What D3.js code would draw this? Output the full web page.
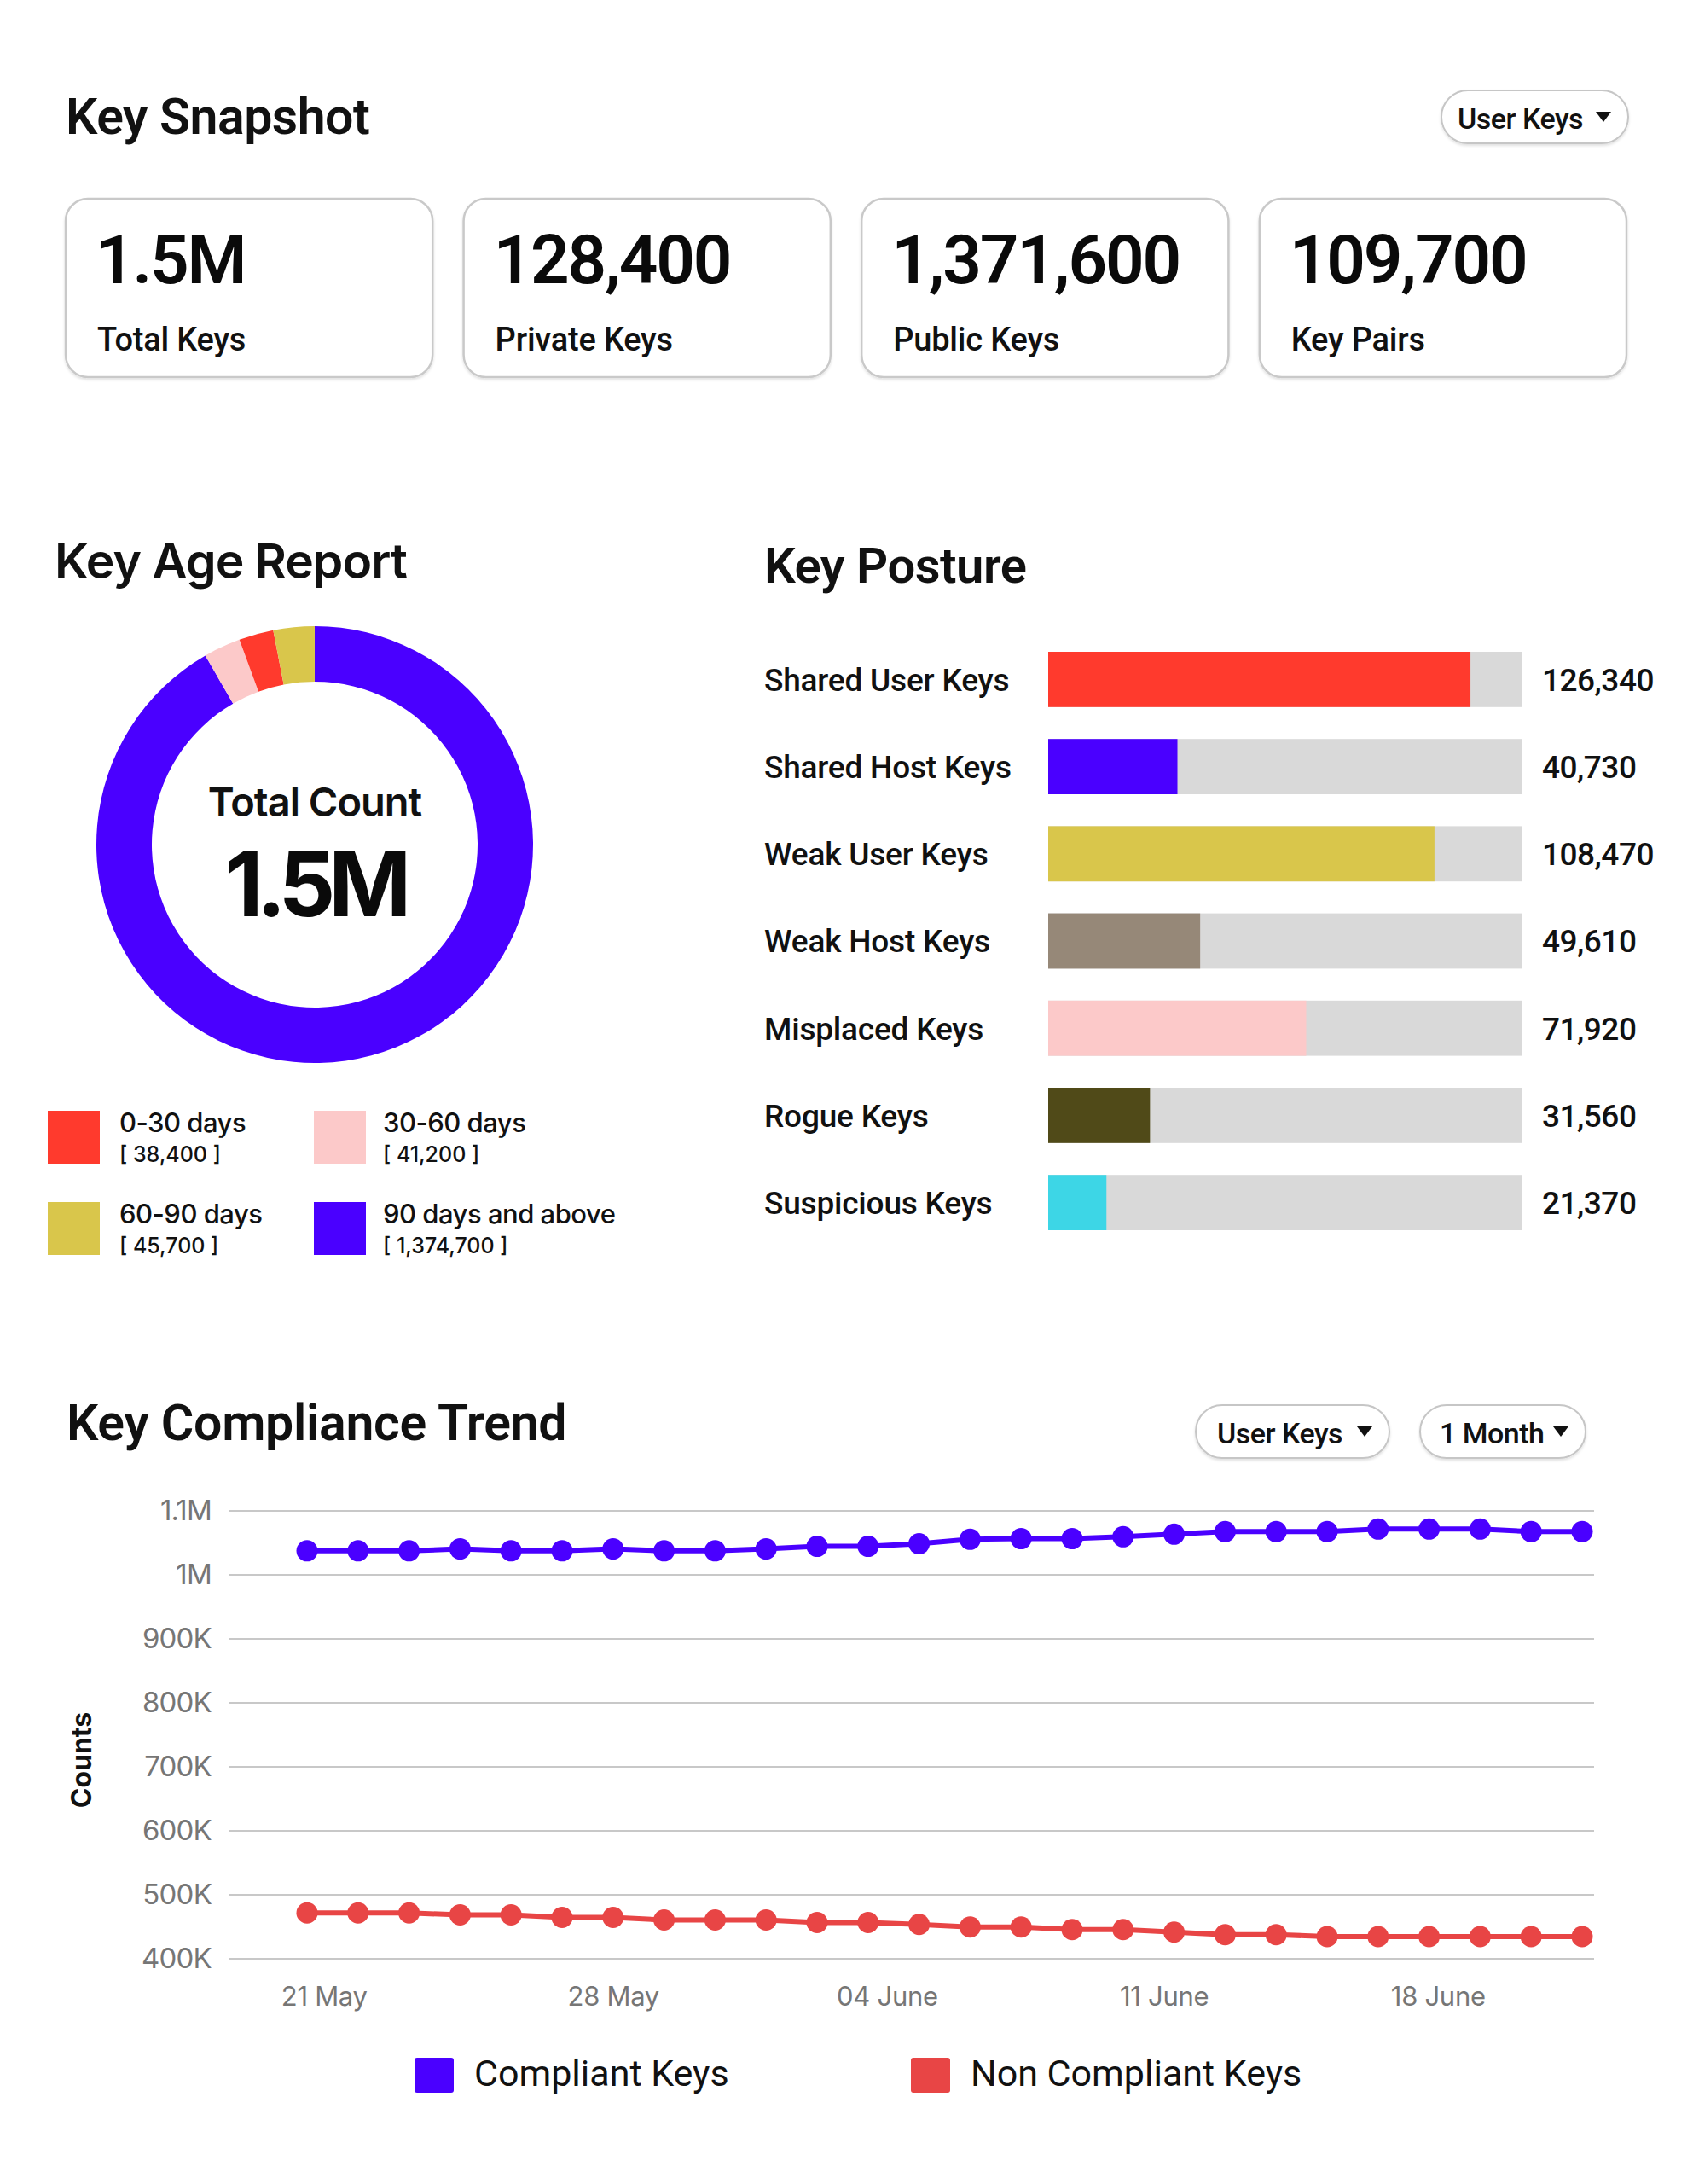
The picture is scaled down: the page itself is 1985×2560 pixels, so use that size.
<!DOCTYPE html>
<html>
<head>
<meta charset="utf-8">
<script src="https://cdn.jsdelivr.net/npm/d3@7"></script>
<style>
  body { margin: 0; background: #fff; }
  svg { font-family: Roboto, "Liberation Sans", sans-serif; }
  .wide { font-family: Inter, "Open Sans", sans-serif; }
</style>
</head>
<body>
<div id="chart-area"></div>
<script>
// ---- data ----
var snapshotValues = ["1.5M", "128,400", "1,371,600", "109,700"];
var snapshotLabels = ["Total Keys", "Private Keys", "Public Keys", "Key Pairs"];

// key age, legend order
var ageLabels = ["0-30 days", "30-60 days", "60-90 days", "90 days and above"];
var ageValues = [38400, 41200, 45700, 1374700];
var ageTotal = "1.5M";
var pieOrder = [3, 1, 0, 2]; // clockwise from 12 o'clock

var postureLabels = ["Shared User Keys", "Shared Host Keys", "Weak User Keys", "Weak Host Keys",
    "Misplaced Keys", "Rogue Keys", "Suspicious Keys"];
var postureValues = [126340, 40730, 108470, 49610, 71920, 31560, 21370];
var postureShare = [89.2, 27.3, 81.6, 32.1, 54.5, 21.5, 12.3]; // % of bar filled

var compliant = [1037000, 1037000, 1037000, 1040000, 1037000, 1037000, 1040000, 1037000, 1037000,
    1040000, 1044000, 1044000, 1048000, 1055000, 1056000, 1056000, 1059000, 1063000, 1067000,
    1067000, 1067000, 1071000, 1071000, 1071000, 1067000, 1067000];
var nonCompliant = [471000, 471000, 471000, 468000, 468000, 464000, 464000, 460000, 460000,
    460000, 456000, 456000, 453000, 449000, 449000, 445000, 445000, 441000, 437000, 437000,
    434000, 434000, 434000, 434000, 434000, 434000];
var xTickLabels = ["21 May", "28 May", "04 June", "11 June", "18 June"];
var xTickAt = [0.33, 6, 11.37, 16.8, 22.17]; // position in point index units
var yTicks = [400000, 500000, 600000, 700000, 800000, 900000, 1000000, 1100000];
var seriesNames = ["Compliant Keys", "Non Compliant Keys"];

// ---- styles ----
var ageColors = ["#ff3a2d", "#fcc9c9", "#d9c64b", "#4a00ff"];
var postureColors = ["#ff3a2d", "#4a00ff", "#d9c64b", "#968878", "#fcc9c9", "#504a18", "#3dd6e6"];
var lineColors = ["#4a00ff", "#e84545"];

var svg = d3.select("#chart-area")
    .append("svg")
    .attr("width", 1985)
    .attr("height", 2560);

svg.append("rect").attr("width", 1985).attr("height", 2560).attr("fill", "#fff");

var defs = svg.append("defs");
defs.append("filter").attr("id", "shadow")
    .attr("x", "-10%").attr("y", "-10%").attr("width", "120%").attr("height", "130%")
    .append("feDropShadow")
    .attr("dx", 0).attr("dy", 2).attr("stdDeviation", 1.5)
    .attr("flood-color", "#000").attr("flood-opacity", 0.12);

function dropdown(x, y, w, label, textX) {
    var g = svg.append("g");
    g.append("rect")
        .attr("x", x).attr("y", y).attr("width", w).attr("height", 62)
        .attr("rx", 31)
        .attr("fill", "#fff").attr("stroke", "#c6c6c6").attr("stroke-width", 2)
        .attr("filter", "url(#shadow)");
    g.append("text")
        .attr("x", textX).attr("y", y + 45)
        .attr("font-size", 34).attr("font-weight", 500).attr("fill", "#111")
        .attr("letter-spacing", -0.5)
        .text(label);
    var tx = x + w - 29;
    g.append("path")
        .attr("d", "M" + (tx - 9) + "," + (y + 25) + "L" + (tx + 9) + "," + (y + 25) + "L" + tx + "," + (y + 37) + "Z")
        .attr("fill", "#111");
}

// ---- Key Snapshot ----
svg.append("text")
    .attr("x", 77).attr("y", 157)
    .attr("font-size", 59).attr("font-weight", 600).attr("fill", "#111")
    .attr("letter-spacing", -0.5)
    .text("Key Snapshot");

dropdown(1690, 106, 219, "User Keys", 1709);

var cardX = d3.scaleBand()
    .domain(snapshotLabels)
    .range([77, 1907])
    .paddingInner(0.078);

var cards = svg.selectAll(".card")
    .data(snapshotLabels)
    .enter()
    .append("g")
    .attr("class", "card")
    .attr("transform", (d) => "translate(" + cardX(d) + ",233)");

cards.append("rect")
    .attr("width", cardX.bandwidth()).attr("height", 209)
    .attr("rx", 26)
    .attr("fill", "#fff").attr("stroke", "#c9c9c9").attr("stroke-width", 2.5)
    .attr("filter", "url(#shadow)");

cards.append("text")
    .attr("x", 35).attr("y", 99)
    .attr("font-size", 80).attr("font-weight", 600).attr("fill", "#0a0a0a")
    .attr("letter-spacing", -2.2)
    .text((d, i) => snapshotValues[i]);

cards.append("text")
    .attr("x", 37).attr("y", 178)
    .attr("font-size", 38).attr("font-weight", 500).attr("fill", "#111")
    .attr("letter-spacing", -0.2)
    .text((d) => d);

// ---- Key Age Report ----
svg.append("text")
    .attr("class", "wide")
    .attr("x", 64).attr("y", 678)
    .attr("font-size", 57).attr("font-weight", 600).attr("fill", "#111")
    .attr("letter-spacing", -1)
    .text("Key Age Report");

var pieData = pieOrder.map((i) => ({ label: ageLabels[i], value: ageValues[i], color: ageColors[i] }));

var pie = d3.pie().sort(null).value((d) => d.value);
var arc = d3.arc().innerRadius(191).outerRadius(256);

var donut = svg.append("g").attr("transform", "translate(369,990)");
donut.selectAll("path")
    .data(pie(pieData))
    .enter()
    .append("path")
    .attr("d", arc)
    .attr("fill", (d) => d.data.color);

donut.append("text")
    .attr("class", "wide")
    .attr("y", -33)
    .attr("text-anchor", "middle")
    .attr("font-size", 47).attr("font-weight", 600).attr("fill", "#111")
    .attr("letter-spacing", -1)
    .text("Total Count");

donut.append("text")
    .attr("class", "wide")
    .attr("y", 84)
    .attr("text-anchor", "middle")
    .attr("font-size", 104).attr("font-weight", 700).attr("fill", "#0a0a0a")
    .attr("letter-spacing", -8)
    .text(ageTotal);

var legend = svg.selectAll(".age-legend")
    .data(ageLabels)
    .enter()
    .append("g")
    .attr("class", "age-legend")
    .attr("transform", (d, i) => "translate(" + (i % 2 === 0 ? 56 : 368) + "," + (i < 2 ? 1302 : 1409) + ")");

legend.append("rect")
    .attr("width", 61).attr("height", 62)
    .attr("fill", (d, i) => ageColors[i]);

legend.append("text")
    .attr("class", "wide")
    .attr("x", (d, i) => i % 2 === 0 ? 84 : 81).attr("y", 25)
    .attr("font-size", 31).attr("font-weight", 500).attr("fill", "#111")
    .attr("letter-spacing", -0.5)
    .text((d) => d);

legend.append("text")
    .attr("class", "wide")
    .attr("x", (d, i) => i % 2 === 0 ? 84 : 81).attr("y", 60)
    .attr("font-size", 25).attr("font-weight", 500).attr("fill", "#111")
    .style("white-space", "pre")
    .text((d, i) => "[ " + d3.format(",")(ageValues[i]) + " ]");

// ---- Key Posture ----
svg.append("text")
    .attr("x", 896).attr("y", 683)
    .attr("font-size", 58).attr("font-weight", 600).attr("fill", "#111")
    .attr("letter-spacing", -0.5)
    .text("Key Posture");

var px = d3.scaleLinear().domain([0, 100]).range([1229, 1784]);
var py = d3.scaleBand()
    .domain(postureLabels)
    .range([764, 1442])
    .paddingInner(0.366)
    .paddingOuter(0);

var rows = svg.selectAll(".posture")
    .data(postureLabels)
    .enter()
    .append("g")
    .attr("class", "posture");

rows.append("rect")
    .attr("x", px(0)).attr("y", (d) => py(d))
    .attr("width", px(100) - px(0)).attr("height", py.bandwidth())
    .attr("fill", "#d9d9d9");

rows.append("rect")
    .attr("x", px(0)).attr("y", (d) => py(d))
    .attr("width", (d, i) => px(postureShare[i]) - px(0)).attr("height", py.bandwidth())
    .attr("fill", (d, i) => postureColors[i]);

rows.append("text")
    .attr("x", 896).attr("y", (d) => py(d) + py.bandwidth() / 2)
    .attr("dy", "0.36em")
    .attr("font-size", 37).attr("font-weight", 500).attr("fill", "#111")
    .attr("letter-spacing", -0.2)
    .text((d) => d);

rows.append("text")
    .attr("x", 1808).attr("y", (d) => py(d) + py.bandwidth() / 2)
    .attr("dy", "0.36em")
    .attr("font-size", 37).attr("font-weight", 500).attr("fill", "#111")
    .attr("letter-spacing", -0.5)
    .text((d, i) => d3.format(",")(postureValues[i]));

// ---- Key Compliance Trend ----
svg.append("text")
    .attr("x", 78).attr("y", 1688)
    .attr("font-size", 59).attr("font-weight", 600).attr("fill", "#111")
    .attr("letter-spacing", -0.3)
    .text("Key Compliance Trend");

dropdown(1402, 1647, 227, "User Keys", 1427);
dropdown(1665, 1647, 194, "1 Month", 1688);

var x = d3.scaleLinear().domain([0, compliant.length - 1]).range([360, 1855]);
var y = d3.scaleLinear().domain([400000, 1100000]).range([2295.5, 1770.6]);

var gridLeft = 269, gridRight = 1869;

var yAxis = svg.append("g")
    .attr("class", "y-axis")
    .attr("transform", "translate(" + gridLeft + ",0)")
    .call(d3.axisLeft(y)
        .tickValues(yTicks)
        .tickSize(-(gridRight - gridLeft))
        .tickPadding(21)
        .tickFormat((d) => d >= 1e6 ? (d / 1e6) + "M" : (d / 1e3) + "K"));
yAxis.select(".domain").remove();
yAxis.selectAll("line").attr("stroke", "#c8c8c8").attr("stroke-width", 2);
yAxis.selectAll("text")
    .attr("class", "wide")
    .attr("font-size", 33).attr("fill", "#767676")
    .attr("letter-spacing", -0.8);

var xAxis = svg.append("g")
    .attr("class", "x-axis")
    .attr("transform", "translate(0,2295)")
    .call(d3.axisBottom(x)
        .tickValues(xTickAt)
        .tickSize(0)
        .tickPadding(34)
        .tickFormat((d, i) => xTickLabels[i]));
xAxis.select(".domain").remove();
xAxis.selectAll("text")
    .attr("class", "wide")
    .attr("font-size", 31).attr("fill", "#767676")
    .attr("letter-spacing", -0.3);

svg.append("text")
    .attr("class", "wide")
    .attr("transform", "translate(95,2063) rotate(-90)")
    .attr("text-anchor", "middle")
    .attr("dy", "0.36em")
    .attr("font-size", 32).attr("font-weight", 700).attr("fill", "#111")
    .text("Counts");

var line = d3.line()
    .x((d, i) => x(i))
    .y((d) => y(d));

[compliant, nonCompliant].forEach((series, s) => {
    svg.append("path")
        .datum(series)
        .attr("d", line)
        .attr("fill", "none")
        .attr("stroke", lineColors[s])
        .attr("stroke-width", 6);

    svg.selectAll(".dot-" + s)
        .data(series)
        .enter()
        .append("circle")
        .attr("class", "dot-" + s)
        .attr("cx", (d, i) => x(i))
        .attr("cy", (d) => y(d))
        .attr("r", 12.5)
        .attr("fill", lineColors[s]);
});

var trendLegend = svg.selectAll(".trend-legend")
    .data(seriesNames)
    .enter()
    .append("g")
    .attr("class", "trend-legend")
    .attr("transform", (d, i) => "translate(" + (i === 0 ? 486 : 1068) + ",2412)");

trendLegend.append("rect")
    .attr("width", 46).attr("height", 41).attr("rx", 3)
    .attr("fill", (d, i) => lineColors[i]);

trendLegend.append("text")
    .attr("x", 70).attr("y", 33)
    .attr("font-size", 43).attr("fill", "#111")
    .text((d) => d);
</script>
</body>
</html>
